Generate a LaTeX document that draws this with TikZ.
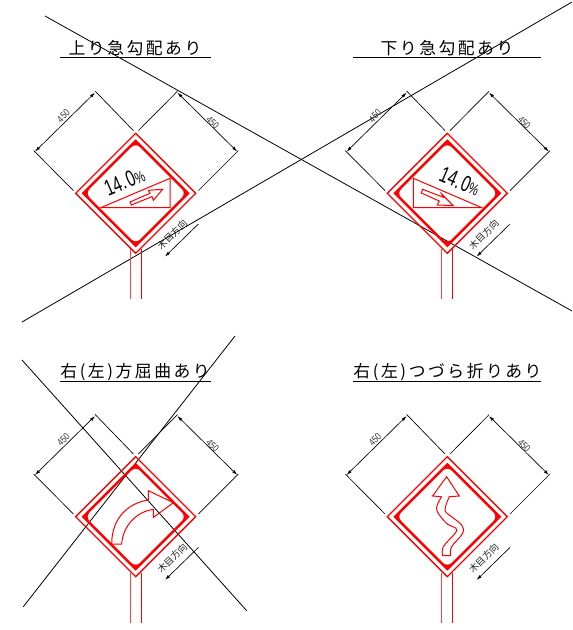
\documentclass[tikz,border=0pt]{standalone}
\usepackage{fontspec}
\setmainfont{Liberation Sans}
\newfontfamily\cjk{Noto Sans CJK JP}
\newfontfamily\cjktitle[LetterSpace=15]{Noto Sans CJK JP}
\usetikzlibrary{arrows.meta}
\tikzset{
  redline/.style={draw=red,line width=0.75pt},
  redouter/.style={draw=red,line width=1pt},
  redthin/.style={draw=red,line width=0.6pt},
  dimline/.style={draw=black,line width=0.5pt},
  dimarrow/.style={draw=black,line width=0.5pt,{Latex[length=4pt,width=2.4pt]}-{Latex[length=4pt,width=2.4pt]}},
  grain/.style={draw=black,line width=0.5pt,-{Latex[length=4pt,width=2.4pt]}},
  longline/.style={draw=black,line width=0.6pt},
  rule/.style={draw=black,line width=0.7pt},
  titletext/.style={font=\cjktitle\fontsize{12.6pt}{14pt}\selectfont,inner sep=0pt,anchor=center},
  dimtext/.style={font=\fontsize{7.4pt}{8pt}\selectfont,text=black!80,inner sep=0pt},
  grainlabel/.style={font=\cjk\fontsize{7pt}{8pt}\selectfont,text=black!85,inner sep=0pt,rotate=45},
  gradetext/.style={font=\fontsize{17pt}{18pt}\selectfont,inner sep=0pt}
}
\newcommand{\gradelabel}{\scalebox{.68}[1]{14.\kern2pt 0{\fontsize{12pt}{13pt}\selectfont\%}}}
\newcommand{\signbase}[2]{%
  \begin{scope}[shift={(#1,#2)}]
    \coordinate (pl) at (-5.6,56); \coordinate (pr) at (5.4,56);
    \coordinate (plb) at (-5.6,106); \coordinate (prb) at (5.4,106);
    \draw[redthin,draw=red!75] (pl) -- (plb);
    \draw[redthin] (pr) -- (prb);
    \draw[redouter] (0,-60) -- (60,0) -- (0,60) -- (-60,0) -- cycle;
    \fill[red,even odd rule] (0,-54) -- (54,0) -- (0,54) -- (-54,0) -- cycle
      [rounded corners=4.5pt] (0,-50.5) -- (50.5,0) -- (0,50.5) -- (-50.5,0) -- cycle;
    \coordinate (lo) at (-62.3,-2.7); \coordinate (lA) at (-102,-42.7);
    \coordinate (lt) at (-2.3,-62.7); \coordinate (lB) at (-40.7,-102.3);
    \coordinate (rt) at (2.7,-62.7); \coordinate (rA) at (41.7,-102);
    \coordinate (ro) at (62.7,-2.7); \coordinate (rB) at (102.7,-42.7);
    \coordinate (ld1) at (-100.7,-41.7); \coordinate (ld2) at (-40.7,-100.7);
    \coordinate (rd1) at (41.7,-100.7); \coordinate (rd2) at (101.5,-41.7);
    \draw[dimline] (lo) -- (lA);
    \draw[dimline] (lt) -- (lB);
    \draw[dimline] (rt) -- (rA);
    \draw[dimline] (ro) -- (rB);
    \draw[dimarrow] (ld1) -- (ld2);
    \draw[dimarrow] (rd1) -- (rd2);
    \node[dimtext,rotate=45] (lbl) at (-72.3,-77.3) {\scalebox{.8}[1]{450}};
    \node[dimtext,rotate=-45] (rbl) at (77,-71) {\scalebox{.8}[1]{450}};
    \coordinate (g1) at (62.7,30.7); \coordinate (g2) at (29.3,63.3);
    \draw[grain] (g1) -- (g2);
    \node[grainlabel] (gl) at (36.5,41.5) {木目方向};
  \end{scope}}
\begin{document}
\begin{tikzpicture}[x=0.75pt,y=-0.75pt]
\useasboundingbox (0,0) rectangle (572,630);
% long construction lines
\coordinate (a1) at (45,16); \coordinate (a2) at (572,311);
\coordinate (b1) at (22,322); \coordinate (b2) at (572,2);
\coordinate (c1) at (22,360); \coordinate (c2) at (246.7,610.7);
\coordinate (d1) at (23.3,606.7); \coordinate (d2) at (235,336);
\draw[longline] (a1) -- (a2);
\draw[longline] (b1) -- (b2);
\draw[longline] (c1) -- (c2);
\draw[longline] (d1) -- (d2);
% titles
\node[titletext] (t1) at (135,48) {上り急勾配あり};
\node[titletext] (t2) at (447,48) {下り急勾配あり};
\node[titletext] (t3) at (135,372) {右\kern2pt(左)\kern2pt方屈曲あり};
\node[titletext] (t4) at (447.5,372) {右\kern2pt(左)\kern2pt つづら折りあり};
\coordinate (u1a) at (60,57); \coordinate (u1b) at (211,57);
\coordinate (u2a) at (353,57); \coordinate (u2b) at (541,57);
\coordinate (u3a) at (60,381); \coordinate (u3b) at (211,381);
\coordinate (u4a) at (353,381); \coordinate (u4b) at (541,381);
\draw[rule] (u1a) -- (u1b);
\draw[rule] (u2a) -- (u2b);
\draw[rule] (u3a) -- (u3b);
\draw[rule] (u4a) -- (u4b);
% signs
\signbase{135.7}{193.3}
\signbase{447.3}{193.3}
\signbase{135.7}{516.7}
\signbase{447.3}{516.7}
% sign 1 content
\begin{scope}[shift={(135.7,193.3)}]
  \draw[redline] (-34.7,14.3) -- (34.3,-15) -- (34.3,14.3) -- cycle;
  \draw[redline] (-5.7,8.7) -- (14.3,0) -- (12.7,-3) -- (27,-4) -- (17.7,7) -- (16.3,3.3) -- (-4.3,11.7) -- cycle;
  \node[gradetext,rotate=23] (g1t) at (-11.3,-12) {\gradelabel};
\end{scope}
% sign 2 content
\begin{scope}[shift={(447.3,193.3)}]
  \draw[redline] (-34,-15) -- (-34,14.3) -- (34.3,14.3) -- cycle;
  \draw[redline] (-24.7,-4) -- (-4,4) -- (-5.7,.7) -- (6,12.3) -- (-10,11.7) -- (-8,7.7) -- (-26,-.3) -- cycle;
  \node[gradetext,rotate=-23] (g2t) at (12.7,-12) {\gradelabel};
\end{scope}
% sign 3 content
\begin{scope}[shift={(135.7,516.7)}]
  \draw[redline] (-24,27.3) .. controls (-24,0) and (-6,-14) .. (12.7,-16.7)
    -- (12.7,-26) -- (37.7,-14) -- (17.7,.7) -- (17.7,-7.3)
    .. controls (0,-5) and (-13,10) .. (-14,27.3) -- cycle;
\end{scope}
% sign 4 content
\begin{scope}[shift={(447.3,516.7)}]
  \draw[redline] plot[smooth,tension=.6] coordinates {(3.3,39) (4.3,30) (15.3,16.7) (14.3,8.3) (4.3,0) (-2.3,-6.7) (2,-20)}
    -- (12,-20.7) -- (-.7,-40) -- (-14.7,-20.7) -- (-5.7,-20)
    plot[smooth,tension=.6] coordinates {(-5.7,-20) (-10,-11.7) (-10,-5) (-.7,6.7) (8.7,11.7) (7.7,16.7) (-4,30) (-4.7,39)} -- (3.3,39);
\end{scope}
\end{tikzpicture}
\end{document}
